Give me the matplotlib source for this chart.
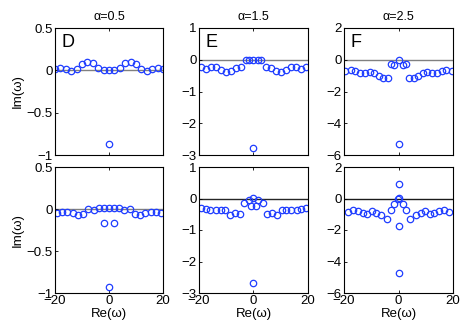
import matplotlib
matplotlib.use("Agg")
import matplotlib.pyplot as plt

plt.rcParams['font.family'] = ['Liberation Sans', 'DejaVu Sans']
plt.rcParams['font.size'] = 9

alphas = ["0.5", "1.5", "2.5"]
letters = ["D", "E", "F"]
ylims = [(-1, 0.5), (-3, 1), (-6, 2)]
yticks = [[-1, -0.5, 0, 0.5], [-3, -2, -1, 0, 1], [-6, -4, -2, 0, 2]]
xticks = [-20, 0, 20]

# top row (D, E, F)
d_top_x = [-20, -18, -16, -14, -12, -10, -8, -6, -4, -2, 0, 2, 4, 6, 8, 10, 12, 14, 16, 18, 20, 0]
d_top_y = [0.02, 0.03, 0.01, -0.01, 0.02, 0.07, 0.1, 0.09, 0.03, 0.0, 0.0, 0.0, 0.03, 0.09, 0.1, 0.07,
           0.02, -0.01, 0.01, 0.03, 0.02, -0.87]

e_top_x = [-19.3, -17.3, -15.5, -13.6, -11.8, -10, -8.2, -6.3, -4.6, -2.9, -1.7, 0, 1.7, 2.9,
           4.6, 6.3, 8.2, 10, 11.8, 13.6, 15.5, 17.3, 19.3, 0]
e_top_y = [-0.24, -0.28, -0.24, -0.23, -0.32, -0.38, -0.34, -0.26, -0.23, 0.0, -0.02, 0.0, -0.02, 0.0,
           -0.23, -0.26, -0.34, -0.38, -0.32, -0.23, -0.24, -0.28, -0.24, -2.77]

f_top_x = [-19.7, -17.6, -15.9, -14.1, -12.4, -10.6, -9.0, -7.3, -5.6, -3.9, -2.7, -1.6, 0, 1.6, 2.7,
           3.9, 5.6, 7.3, 9.0, 10.6, 12.4, 14.1, 15.9, 17.6, 19.7, 0]
f_top_y = [-0.74, -0.67, -0.74, -0.86, -0.86, -0.78, -0.84, -1.0, -1.12, -1.16, -0.25, -0.34, 0.0,
           -0.34, -0.25, -1.16, -1.12, -1.0, -0.84, -0.78, -0.86, -0.86, -0.74, -0.67, -0.74, -5.33]

# bottom row
d_bot_x = [-19.3, -17.4, -15.4, -13.4, -11.5, -9.6, -7.6, -5.7, -3.8, -1.9, 0, 1.9, 3.8, 5.7,
           7.6, 9.6, 11.5, 13.4, 15.4, 17.4, 19.3, -1.7, 1.7, 0]
d_bot_y = [-0.05, -0.04, -0.03, -0.05, -0.07, -0.06, -0.005, -0.01, 0.015, 0.01, 0.01, 0.01, 0.015,
           -0.01, -0.005, -0.06, -0.07, -0.05, -0.03, -0.04, -0.05, -0.165, -0.165, -0.93]

e_bot_x = [-19.4, -17.6, -15.8, -13.9, -12.1, -10.3, -8.6, -6.8, -4.8, -3.4, -1.8, -1.0, 0, 1.0, 1.8,
           3.4, 4.8, 6.8, 8.6, 10.3, 12.1, 13.9, 15.8, 17.6, 19.4, 0]
e_bot_y = [-0.29, -0.32, -0.38, -0.35, -0.35, -0.38, -0.53, -0.45, -0.5, -0.13, -0.05, -0.23, 0.02,
           -0.23, -0.05, -0.13, -0.5, -0.45, -0.53, -0.38, -0.35, -0.35, -0.38, -0.32, -0.29, -2.68]

f_bot_x = [-18.6, -16.8, -14.9, -13.2, -11.4, -9.8, -8.1, -6.6, -4.4, -2.9, -1.5, -0.3, 0, 1.5,
           2.9, 4.4, 6.6, 8.1, 9.8, 11.4, 13.2, 14.9, 16.8, 18.6, 0, 0, 0]
f_bot_y = [-0.84, -0.74, -0.8, -0.9, -1.0, -0.8, -0.9, -1.05, -1.33, -0.7, -0.34, -0.06, 0.04, -0.34,
           -0.7, -1.33, -1.05, -0.9, -0.8, -1.0, -0.9, -0.8, -0.74, -0.84, 0.9, -1.75, -4.76]

panels = [[(d_top_x, d_top_y), (e_top_x, e_top_y), (f_top_x, f_top_y)],
          [(d_bot_x, d_bot_y), (e_bot_x, e_bot_y), (f_bot_x, f_bot_y)]]

W, H = 463, 328
fig = plt.figure(figsize=(W / 100, H / 100), dpi=100)

lefts = [55, 199, 344]
widths = [108, 109, 109]
rows = [(28, 155), (167, 293)]
zero_colors = [["0.5", "0.5", "0.5"], ["0.5", "0.15", "0.1"]]

for r, (top, bot) in enumerate(rows):
    for c in range(3):
        ax = fig.add_axes([lefts[c] / W, (H - bot) / H, widths[c] / W, (bot - top) / H])
        xs, ys = panels[r][c]
        ax.plot([-20, 20], [0, 0], color=zero_colors[r][c], lw=1.0, zorder=1)
        ax.plot(xs, ys, 'o', mfc='none', mec='#1f3dff', ms=4.6, mew=0.9, zorder=2)
        ax.set_xlim(-20, 20)
        ax.set_ylim(*ylims[c])
        ax.set_xticks(xticks)
        ax.set_yticks(yticks[c])
        ax.tick_params(direction='in', length=2.5, width=0.6, pad=1.5, labelsize=9.5,
                       top=True, right=False)
        if c == 0:
            ax.set_yticklabels(["\u22121", "\u22120.5", "0", "0.5"])
            ax.set_ylabel("Im(\u03c9)", fontsize=9.5, labelpad=2)
        if r == 0:
            ax.set_xticklabels([])
            ax.set_title("\u03b1=" + alphas[c], fontsize=9, pad=6)
            ax.text(0.06, 0.95, letters[c], transform=ax.transAxes, fontsize=13,
                    va='top', ha='left')
        else:
            ax.set_xlabel("Re(\u03c9)", fontsize=9.5, labelpad=1)
        for s in ax.spines.values():
            s.set_linewidth(0.8)

fig.savefig("out.png", dpi=100)
